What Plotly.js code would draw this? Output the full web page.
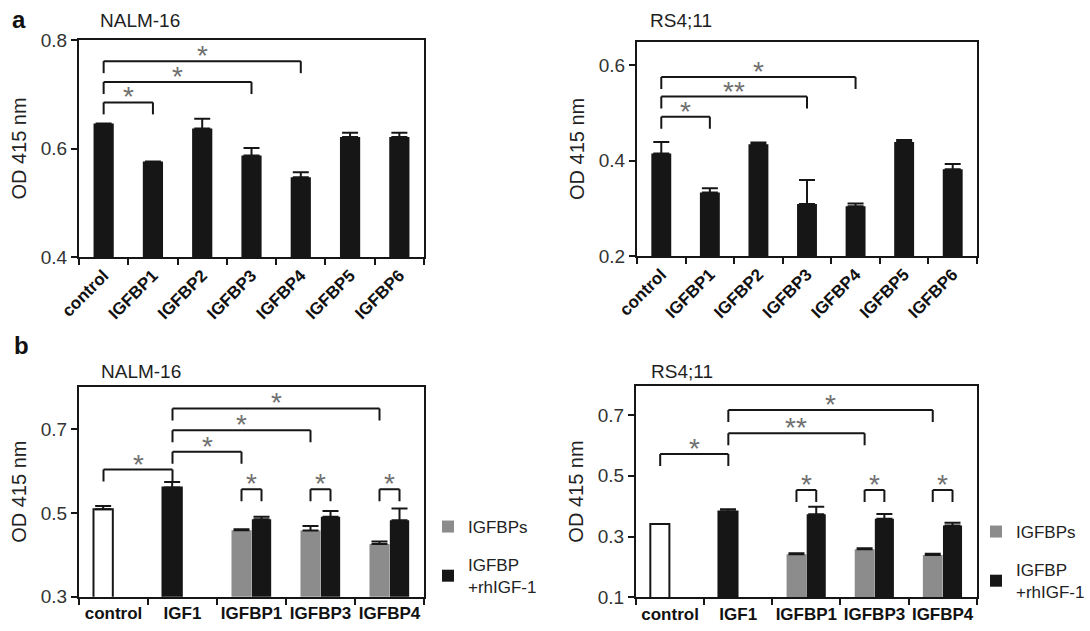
<!DOCTYPE html>
<html>
<head>
<meta charset="utf-8">
<script src="https://cdn.plot.ly/plotly-3.0.1.min.js"></script>
<style>html,body{margin:0;padding:0;background:#fff;}#chart{width:1090px;height:631px;}</style>
</head>
<body>
<div id="chart"></div>
<script>
// ---------- data ----------
const aCats = ['control','IGFBP1','IGFBP2','IGFBP3','IGFBP4','IGFBP5','IGFBP6'];
const aNalmVals = [0.646, 0.576, 0.637, 0.587, 0.547, 0.621, 0.621];
const aNalmErr  = [0, 0, 0.018, 0.014, 0.009, 0.008, 0.008];
const aRsVals   = [0.415, 0.333, 0.434, 0.309, 0.304, 0.439, 0.382];
const aRsErr    = [0.024, 0.009, 0.004, 0.050, 0.006, 0.004, 0.011];

const bCats = ['control','IGF1','IGFBP1','IGFBP3','IGFBP4'];
const bRefCats = ['control','IGF1'];
const bPairCats = ['IGFBP1','IGFBP3','IGFBP4'];
const bNalmRef = [0.509, 0.561];
const bNalmRefErr = [0.008, 0.013];
const bNalmGray = [0.459, 0.458, 0.426];
const bNalmGrayErr = [0.002, 0.011, 0.006];
const bNalmBlack = [0.485, 0.491, 0.483];
const bNalmBlackErr = [0.006, 0.014, 0.028];
const bRsRef = [0.341, 0.382];
const bRsRefErr = [0, 0.008];
const bRsGray = [0.2415, 0.258, 0.239];
const bRsGrayErr = [0.003, 0.003, 0.004];
const bRsBlack = [0.373, 0.358, 0.336];
const bRsBlackErr = [0.025, 0.016, 0.009];

// significance brackets: [from, to, level, label]
const aNalmSig = [['control','IGFBP1',0.685,'*'],['control','IGFBP3',0.7225,'*'],['control','IGFBP4',0.761,'*']];
const aRsSig   = [['control','IGFBP1',0.492,'*'],['control','IGFBP3',0.534,'**'],['control','IGFBP4',0.575,'*']];
const bNalmSig = [['control','IGF1',0.604,'*'],['IGF1','IGFBP1',0.6465,'*'],['IGF1','IGFBP3',0.698,'*'],['IGF1','IGFBP4',0.750,'*']];
const bNalmPairSig = [['IGFBP1',0.557,'*'],['IGFBP3',0.557,'*'],['IGFBP4',0.557,'*']];
const bRsSig   = [['control','IGF1',0.571,'*'],['IGF1','IGFBP3',0.640,'**'],['IGF1','IGFBP4',0.716,'*']];
const bRsPairSig = [['IGFBP1',0.453,'*'],['IGFBP3',0.453,'*'],['IGFBP4',0.453,'*']];

// ---------- style ----------
const W = 1090, H = 631;
const FONT = 'Liberation Sans, Arial, Helvetica, sans-serif';
const BLACK = '#161616', GRAY = '#8c8c8c', STAR = '#707070';
const px = v => v / W, py = v => 1 - v / H;

const traces = [];
function simpleBars(cats, vals, errs, xa, ya) {
  traces.push({type:'bar', x:cats, y:vals, xaxis:xa, yaxis:ya, width:0.41,
    marker:{color:BLACK, line:{width:0}}, showlegend:false,
    error_y:{type:'data', array:errs, arrayminus:errs.map(()=>0), symmetric:false, color:BLACK, thickness:2, width:8}});
}
simpleBars(aCats, aNalmVals, aNalmErr, 'x', 'y');
simpleBars(aCats, aRsVals, aRsErr, 'x2', 'y2');

const SLOT = 0.29;
function groupBars(ref, refErr, gray, grayErr, black, blackErr, xa, ya, legend) {
  traces.push({type:'bar', x:bRefCats, y:ref, xaxis:xa, yaxis:ya, offset:-SLOT, width:SLOT-0.01,
    marker:{color:['#ffffff', BLACK], line:{color:BLACK, width:2}}, showlegend:false,
    error_y:{type:'data', array:refErr, arrayminus:refErr.map(()=>0), symmetric:false, color:BLACK, thickness:2, width:8}});
  traces.push({type:'bar', name:'IGFBPs', x:bPairCats, y:gray, xaxis:xa, yaxis:ya, offset:-SLOT, width:SLOT,
    marker:{color:GRAY, line:{width:0}}, legend:legend, legendgroup:'g1', showlegend:true,
    error_y:{type:'data', array:grayErr, arrayminus:grayErr.map(()=>0), symmetric:false, color:BLACK, thickness:2, width:8}});
  traces.push({type:'bar', name:'IGFBP<br>+rhIGF-1', x:bPairCats, y:black, xaxis:xa, yaxis:ya, offset:0.005, width:SLOT-0.01,
    marker:{color:BLACK, line:{width:0}}, legend:legend, legendgroup:'g2', showlegend:true,
    error_y:{type:'data', array:blackErr, arrayminus:blackErr.map(()=>0), symmetric:false, color:BLACK, thickness:2, width:8}});
}
groupBars(bNalmRef, bNalmRefErr, bNalmGray, bNalmGrayErr, bNalmBlack, bNalmBlackErr, 'x3', 'y3', 'legend');
groupBars(bRsRef, bRsRefErr, bRsGray, bRsGrayErr, bRsBlack, bRsBlackErr, 'x4', 'y4', 'legend2');

// ---------- brackets ----------
const shapes = [], annotations = [];
function bracket(xref, yref, xa, xb, level, label) {
  const common = {type:'line', xref:xref, yref:yref, ysizemode:'pixel', yanchor:level, line:{color:BLACK, width:2}};
  shapes.push(Object.assign({x0:xa, x1:xb, y0:0, y1:0}, common));
  shapes.push(Object.assign({x0:xa, x1:xa, y0:0, y1:-12}, common));
  shapes.push(Object.assign({x0:xb, x1:xb, y0:0, y1:-12}, common));
  annotations.push({xref:xref, yref:yref, x:(xa+xb)/2, y:level, text:label, showarrow:false,
    yanchor:'bottom', yshift:-12, font:{family:FONT, size:28, color:STAR}});
}
aNalmSig.forEach(s => bracket('x','y', aCats.indexOf(s[0]), aCats.indexOf(s[1]), s[2], s[3]));
aRsSig.forEach(s => bracket('x2','y2', aCats.indexOf(s[0]), aCats.indexOf(s[1]), s[2], s[3]));
const c1 = -SLOT/2, c2 = SLOT/2;
bNalmSig.forEach(s => bracket('x3','y3', bCats.indexOf(s[0])+c1, bCats.indexOf(s[1])+c1, s[2], s[3]));
bNalmPairSig.forEach(s => bracket('x3','y3', bCats.indexOf(s[0])+c1, bCats.indexOf(s[0])+c2, s[1], s[2]));
bRsSig.forEach(s => bracket('x4','y4', bCats.indexOf(s[0])+c1, bCats.indexOf(s[1])+c1, s[2], s[3]));
bRsPairSig.forEach(s => bracket('x4','y4', bCats.indexOf(s[0])+c1, bCats.indexOf(s[0])+c2, s[1], s[2]));

// ---------- text ----------
function txt(x, y, t, size, bold, color) {
  annotations.push({xref:'paper', yref:'paper', x:px(x), y:py(y), text:t, showarrow:false,
    xanchor:'center', yanchor:'middle', font:{family:FONT, size:size, color:color||'#1e1e1e', weight:bold?'bold':'normal'}});
}
txt(19, 19, 'a', 24, true, '#111');
txt(21, 345, 'b', 24, true, '#111');
txt(140, 21, 'NALM-16', 19);
txt(681, 21, 'RS4;11', 19);
txt(141, 371, 'NALM-16', 19);
txt(682, 371, 'RS4;11', 19);

// ---------- axes ----------
function xaxis(d0, d1, anchor, angle, fsize) {
  return {domain:[px(d0), px(d1)], anchor:anchor, type:'category', showline:true, mirror:true,
    linecolor:BLACK, linewidth:2, ticks:'outside', tickson:'boundaries', ticklen:6, tickwidth:2, tickcolor:BLACK,
    tickangle:angle, tickfont:{family:FONT, size:fsize, color:'#111', weight:'bold'}, showgrid:false, zeroline:false, fixedrange:true};
}
function yaxis(top, bottom, anchor, range, dtick, t0) {
  return {domain:[py(bottom), py(top)], anchor:anchor, range:range, tick0:t0, dtick:dtick, showline:true, mirror:true,
    linecolor:BLACK, linewidth:2, ticks:'outside', ticklen:6, tickwidth:2, tickcolor:BLACK,
    tickfont:{family:FONT, size:19, color:'#333'}, showgrid:false, zeroline:false, fixedrange:true,
    title:{text:'OD 415 nm', standoff:9, font:{family:FONT, size:20, color:'#222'}}};
}

const layout = {
  width:W, height:H, margin:{l:0, r:0, t:0, b:0, autoexpand:false}, paper_bgcolor:'#fff', plot_bgcolor:'rgba(0,0,0,0)',
  barmode:'overlay', font:{family:FONT},
  xaxis:  xaxis(79, 424, 'y', -45, 17),
  yaxis:  yaxis(40, 257, 'x', [0.4, 0.8], 0.2, 0.4),
  xaxis2: xaxis(637, 977, 'y2', -45, 17),
  yaxis2: yaxis(41.7, 256, 'x2', [0.2, 0.649], 0.2, 0.2),
  xaxis3: xaxis(79, 424, 'y3', 0, 17),
  yaxis3: yaxis(386.7, 596.7, 'x3', [0.3, 0.802], 0.2, 0.3),
  xaxis4: xaxis(636, 976.7, 'y4', 0, 17),
  yaxis4: yaxis(385.7, 597.3, 'x4', [0.1, 0.796], 0.2, 0.1),
  legend:  {x:px(428), y:py(509), xanchor:'left', yanchor:'top', bgcolor:'rgba(0,0,0,0)', tracegroupgap:13,
            font:{family:FONT, size:17, color:'#222'}, itemsizing:'constant'},
  legend2: {x:px(976), y:py(514), xanchor:'left', yanchor:'top', bgcolor:'rgba(0,0,0,0)', tracegroupgap:13,
            font:{family:FONT, size:17, color:'#222'}, itemsizing:'constant'},
  shapes:shapes, annotations:annotations
};

Plotly.newPlot('chart', traces, layout, {displayModeBar:false, staticPlot:true});
</script>
</body>
</html>
